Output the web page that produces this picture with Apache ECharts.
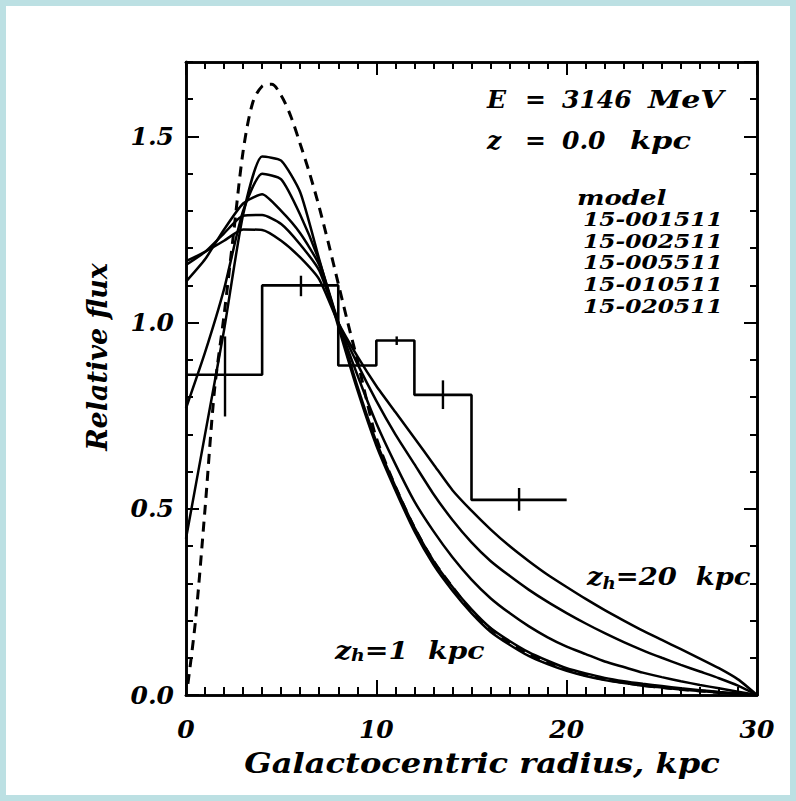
<!DOCTYPE html>
<html>
<head>
<meta charset="utf-8">
<script src="https://cdn.jsdelivr.net/npm/echarts@6/dist/echarts.min.js"></script>
<style>
html,body{margin:0;padding:0;background:#bce0e3;}
#chart{width:796px;height:801px;}
</style>
</head>
<body>
<div id="chart"></div>
<script>
// ---- data ----
const radius = [0,1,2,3,4,5,6,7,8,9,10,11,12,13,14,15,16,17,18,19,20,21,22,23,24,25,26,27,28,29,30];
const model001511 = [0.42,0.70,0.98,1.29,1.446,1.435,1.35,1.17,0.99,0.82,0.67,0.55,0.44,0.35,0.28,0.22,0.17,0.135,0.105,0.083,0.065,0.051,0.04,0.032,0.025,0.02,0.015,0.011,0.007,0.003,0.0];
const model002511 = [0.77,0.92,1.09,1.30,1.40,1.385,1.29,1.165,1.0,0.83,0.68,0.56,0.45,0.36,0.29,0.23,0.18,0.145,0.115,0.092,0.072,0.058,0.046,0.037,0.03,0.024,0.018,0.013,0.008,0.004,0.0];
const model005511 = [1.11,1.17,1.25,1.32,1.345,1.30,1.24,1.155,1.0,0.86,0.73,0.62,0.52,0.44,0.37,0.31,0.26,0.22,0.185,0.155,0.13,0.11,0.09,0.075,0.06,0.048,0.037,0.027,0.018,0.009,0.0];
const model010511 = [1.155,1.19,1.24,1.287,1.289,1.265,1.21,1.14,1.0,0.89,0.79,0.70,0.62,0.54,0.47,0.41,0.36,0.32,0.283,0.25,0.22,0.192,0.166,0.142,0.12,0.1,0.081,0.063,0.045,0.025,0.0];
const model020511 = [1.165,1.19,1.22,1.25,1.249,1.22,1.175,1.116,1.0,0.91,0.83,0.76,0.69,0.62,0.55,0.495,0.445,0.40,0.36,0.323,0.29,0.258,0.228,0.2,0.173,0.148,0.123,0.098,0.072,0.042,0.0];
const sourceRadius = [0.1,0.5,1,1.5,2,2.5,3,3.5,4,4.5,5,5.5,6,6.5,7,7.5,8,8.5,9,9.5,10,11,12,13,14,15,16,17,18,19,20,21,22,23,24,25,26,27,28,29,30];
const sourceValues = [0.03,0.2,0.5,0.82,1.02,1.24,1.46,1.59,1.635,1.64,1.61,1.555,1.48,1.40,1.31,1.21,1.105,1.0,0.90,0.79,0.69,0.56,0.45,0.36,0.29,0.225,0.178,0.14,0.11,0.087,0.068,0.053,0.042,0.033,0.026,0.02,0.015,0.011,0.007,0.003,0.0];
const binEdges = [0,4,8,10,12,15,20];
const binValues = [0.86,1.10,0.885,0.952,0.806,0.524,0.524];
const errX = [2.05,6.04,11.07,13.5,17.5];
const errLow = [0.748,1.071,0.94,0.768,0.495];
const errHigh = [0.963,1.126,0.963,0.845,0.556];
const xTickLabels = ['0','10','20','30'];
const yTickLabels = ['0.0','0.5','1.0','1.5'];
const modelNames = ['15-001511','15-002511','15-005511','15-010511','15-020511'];

// ---- chart ----
const FONT = '"DejaVu Serif"';
const chart = echarts.init(document.getElementById('chart'), null, {renderer:'svg'});
const pair = (xs, ys) => xs.map((x,i)=>[x, ys[i]]);
const models = [model001511, model002511, model005511, model010511, model020511];
const lineStyle = {color:'#000', width:2.5};

const series = models.map((m,i)=>({
  type:'line', name:modelNames[i], data:pair(radius,m), showSymbol:false, smooth:0.2,
  lineStyle:lineStyle, silent:true, z:3
}));
series.push({type:'line', name:'source', data:pair(sourceRadius,sourceValues), showSymbol:false, smooth:0.3,
  lineStyle:{color:'#000', width:3, type:[10,7]}, silent:true, z:3});
series.push({type:'line', name:'data', data:pair(binEdges,binValues), step:'end', showSymbol:false,
  lineStyle:{color:'#000', width:2.6}, silent:true, z:4});
series.push({type:'custom', name:'err', data:errX.map((x,i)=>[x,errLow[i],errHigh[i]]), z:4,
  renderItem:(params, api)=>{
    const a = api.coord([api.value(0), api.value(1)]);
    const b = api.coord([api.value(0), api.value(2)]);
    return {type:'line', shape:{x1:a[0],y1:a[1],x2:b[0],y2:b[1]}, style:{stroke:'#000', lineWidth:2.4}};
  }});

const labelStyle = {fontFamily:FONT, fontWeight:'bold', fontStyle:'italic', fontSize:25, color:'#000'};
function xAx(pos, interval, len, labels){
  return {type:'value', min:0, max:30, interval:interval, position:pos,
    axisLine:{show:true, onZero:false, lineStyle:{color:'#000', width:2.6}},
    axisTick:{show:true, inside:true, length:len, lineStyle:{color:'#000', width:2}},
    axisLabel: labels ? Object.assign({show:true, margin:22, formatter:(v)=>xTickLabels[Math.round(v/10)]||''}, labelStyle) : {show:false},
    splitLine:{show:false}};
}
function yAx(pos, interval, len, labels){
  return {type:'value', min:0, max:1.7, interval:interval, position:pos,
    axisLine:{show:true, onZero:false, lineStyle:{color:'#000', width:2.6}},
    axisTick:{show:true, inside:true, length:len, lineStyle:{color:'#000', width:2}},
    axisLabel: labels ? Object.assign({show:true, margin:12, showMaxLabel:false,
      formatter:(v)=>{const k=Math.round(v/0.5); return Math.abs(v-k*0.5)<1e-6 ? (yTickLabels[k]||'') : '';}}, labelStyle) : {show:false},
    splitLine:{show:false}};
}

const T = (x,y,text,size,align,extra)=>Object.assign({type:'text', x:x, y:y, silent:true,
  style:{text:text, fontFamily:FONT, fontWeight:'bold', fontStyle:'italic', fontSize:size, fill:'#000',
    align:align||'left', verticalAlign:'middle'}}, extra||{});
const sub = {s:{fontFamily:FONT, fontWeight:'bold', fontStyle:'italic', fontSize:16, padding:[12,0,0,0]}};

const graphic = [
  {type:'rect', shape:{x:6,y:6,width:784,height:789}, style:{fill:'#fff'}, z:-100, silent:true},
  T(487,99,'E',25), T(525,99,'=',25), T(562,99,'3146',25), T(648,99,'MeV',25,'left',{scaleX:1.2}),
  T(487,140,'z',25), T(525,140,'=',25), T(562,140,'0.0',25), T(630,140,'kpc',25,'left',{scaleX:1.22}),
  T(577,198,'model',20,'left',{scaleX:1.3}),
  T(583,220,modelNames[0],18,'left',{scaleX:1.3}), T(583,242,modelNames[1],18,'left',{scaleX:1.3}),
  T(583,263,modelNames[2],18,'left',{scaleX:1.3}), T(583,285,modelNames[3],18,'left',{scaleX:1.3}),
  T(583,307,modelNames[4],18,'left',{scaleX:1.3}),
  {type:'text', x:587, y:577, scaleX:1.14, silent:true, style:{text:'z{s|h}=20  kpc', fontFamily:FONT, fontWeight:'bold', fontStyle:'italic', fontSize:24, fill:'#000', verticalAlign:'middle', rich:sub}},
  {type:'text', x:335, y:650, scaleX:1.18, silent:true, style:{text:'z{s|h}=1  kpc', fontFamily:FONT, fontWeight:'bold', fontStyle:'italic', fontSize:24, fill:'#000', verticalAlign:'middle', rich:sub}},
  T(482,763,'Galactocentric radius, kpc',27,'center',{scaleX:1.19}),
  T(97,357,'Relative flux',27,'center',{rotation:Math.PI/2})
];

chart.setOption({
  backgroundColor:'#bce0e3',
  animation:false,
  grid:{left:186, top:62, width:571, height:633, containLabel:false},
  xAxis:[xAx('bottom',10,15,true), xAx('bottom',1,8,false), xAx('top',10,13,false), xAx('top',1,7,false)],
  yAxis:[yAx('left',0.5,13,true), yAx('left',0.1,7,false), yAx('right',0.5,13,false), yAx('right',0.1,7,false)],
  graphic:graphic,
  series:series
});
</script>
</body>
</html>
